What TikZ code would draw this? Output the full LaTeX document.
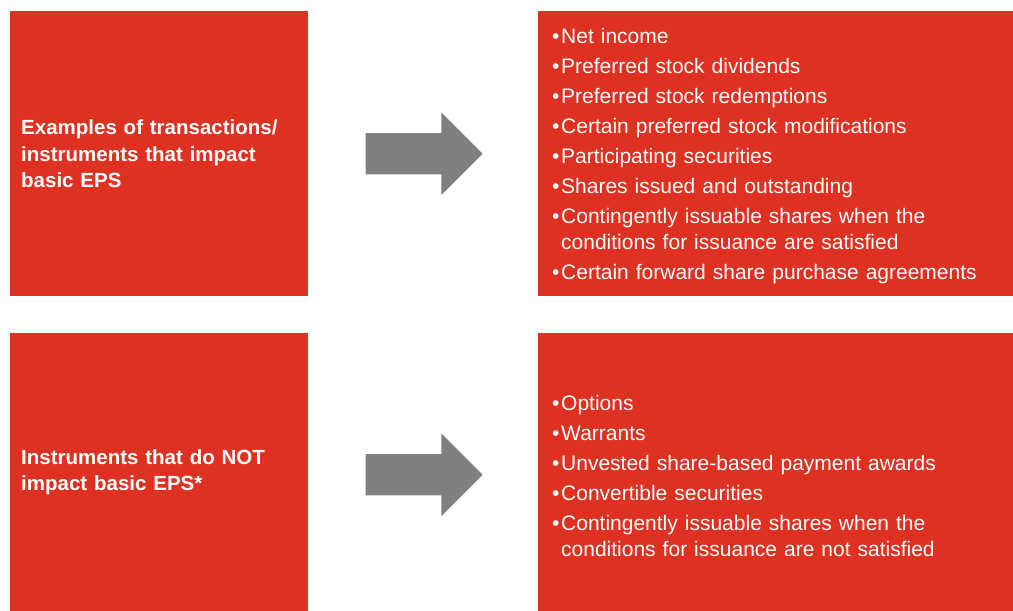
\documentclass[tikz,border=0pt]{standalone}
\usepackage{fontspec}
\setmainfont{Liberation Sans}
\usetikzlibrary{shapes.arrows,calc,positioning}

\definecolor{epsred}{HTML}{DE3121}
\definecolor{arrowgray}{HTML}{7F7F7F}

% bullet item with hanging indent
\newcommand{\bitem}[1]{\hangindent=9pt\hangafter=1\noindent\makebox[9pt][l]{\textbullet}#1\par}

\tikzset{
  redbox/.style={fill=epsred, text=white, anchor=north west, align=left,
    inner ysep=0pt, font=\fontsize{21}{26}\selectfont\setlength{\parskip}{4pt}},
  headbox/.style={redbox, text width=276pt, inner xsep=11pt,
    font=\bfseries\fontsize{20.5}{26.5}\selectfont},
  listbox/.style={redbox, text width=447pt, inner xsep=14pt},
  bigarrow/.style={single arrow, fill=arrowgray, inner sep=0pt, anchor=tail,
    minimum height=117pt, single arrow head extend=20.5pt,
    single arrow head indent=0pt}
}

\begin{document}
\begin{tikzpicture}[x=1pt, y=-1pt]
  \useasboundingbox (0,0) rectangle (1013,611);

  % upper row
  \node[headbox, minimum height=285pt] (basic) at (10,11)
    {Examples of transactions/\newline instruments that impact\newline basic EPS};
  \node[listbox, minimum height=285pt] (basiclist) at (538,11) {%
    \bitem{\rule{0pt}{19pt}Net income}
    \bitem{Preferred stock dividends}
    \bitem{Preferred stock redemptions}
    \bitem{Certain preferred stock modifications}
    \bitem{Participating securities}
    \bitem{Shares issued and outstanding}
    \bitem{Contingently issuable shares when the\newline conditions for issuance are satisfied}
    \bitem{Certain forward share purchase agreements}};
  \node[bigarrow] (arrowup) at ($(basic.east)+(57,0)$) {\rule{0pt}{41pt}};

  % lower row
  \node[headbox, minimum height=278pt] (notbasic) at (10,333)
    {Instruments that do NOT\newline impact basic EPS*};
  \node[listbox, minimum height=278pt] (notbasiclist) at (538,333) {%
    \bitem{\rule{0pt}{22pt}Options}
    \bitem{Warrants}
    \bitem{Unvested share-based payment awards}
    \bitem{Convertible securities}
    \bitem{Contingently issuable shares when the\newline conditions for issuance are not satisfied}};
  \node[bigarrow, yshift=-2.5pt] (arrowdown) at ($(notbasic.east)+(57,0)$) {\rule{0pt}{41pt}};
\end{tikzpicture}
\end{document}
